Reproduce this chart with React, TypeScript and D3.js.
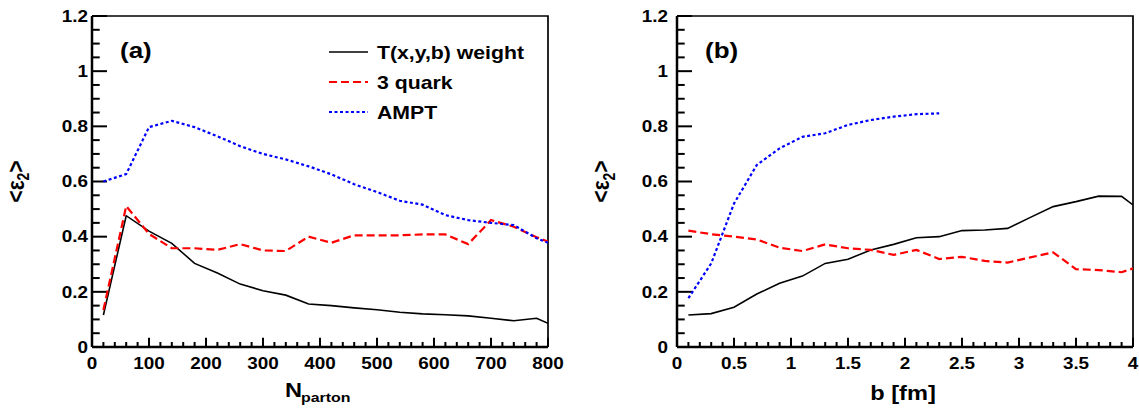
import React from 'react';
import * as d3 from 'd3';

// left panel (a): vs number of partons
const nParton = [20, 60, 100, 140, 180, 220, 260, 300, 340, 380, 420, 460, 500, 540, 580, 620, 660, 700, 740, 780, 800];
const nTWeight = [0.116, 0.476, 0.42, 0.376, 0.303, 0.268, 0.228, 0.204, 0.188, 0.156, 0.15, 0.142, 0.135, 0.126, 0.12, 0.117, 0.113, 0.104, 0.095, 0.104, 0.086];
const nThreeQuark = [0.134, 0.511, 0.41, 0.358, 0.358, 0.352, 0.373, 0.35, 0.348, 0.4, 0.378, 0.405, 0.405, 0.405, 0.408, 0.408, 0.373, 0.46, 0.436, 0.398, 0.382];
const nAmpt = [0.6, 0.627, 0.797, 0.82, 0.797, 0.764, 0.728, 0.7, 0.68, 0.655, 0.626, 0.59, 0.562, 0.53, 0.516, 0.478, 0.46, 0.45, 0.442, 0.394, 0.378];

// right panel (b): vs impact parameter
const bValues = [0.1, 0.3, 0.5, 0.7, 0.9, 1.1, 1.3, 1.5, 1.7, 1.9, 2.1, 2.3, 2.5, 2.7, 2.9, 3.1, 3.3, 3.5, 3.7, 3.9, 4.0];
const bTWeight = [0.116, 0.121, 0.144, 0.192, 0.231, 0.257, 0.303, 0.318, 0.352, 0.372, 0.396, 0.4, 0.422, 0.424, 0.43, 0.47, 0.509, 0.527, 0.547, 0.546, 0.515];
const bThreeQuark = [0.422, 0.409, 0.4, 0.39, 0.36, 0.348, 0.372, 0.358, 0.352, 0.334, 0.352, 0.319, 0.327, 0.312, 0.306, 0.325, 0.343, 0.282, 0.279, 0.271, 0.285];
const bAmptX = [0.1, 0.3, 0.5, 0.7, 0.9, 1.1, 1.3, 1.5, 1.7, 1.9, 2.1, 2.3];
const bAmpt = [0.177, 0.303, 0.52, 0.66, 0.72, 0.762, 0.775, 0.805, 0.823, 0.835, 0.844, 0.847];

const yTicks = [0, 0.2, 0.4, 0.6, 0.8, 1, 1.2];
const nTicks = [0, 100, 200, 300, 400, 500, 600, 700, 800];
const bTicks = [0, 0.5, 1, 1.5, 2, 2.5, 3, 3.5, 4];
const legendNames = ['T(x,y,b) weight', '3 quark', 'AMPT'];

const FONT = '"Liberation Sans", Arial, Helvetica, sans-serif';
const SX = 1.18; // the picture is stretched a bit horizontally
const TOP = 16, BOTTOM = 347;

const styles = [
  { stroke: '#000', width: 1.6, dash: null },
  { stroke: '#ff0000', width: 2.2, dash: '8,4' },
  { stroke: '#0000ff', width: 2.2, dash: '3,2.5' },
];

const T = ({ x, y, size, anchor = 'start', children }: any) => (
  <text transform={`translate(${x},${y}) scale(${SX},1)`} fontSize={size} fontWeight="bold"
    fontFamily={FONT} textAnchor={anchor} fill="#000">{children}</text>
);

function Panel({ id, left, right, xDomain, xTicks, minorStep, series, tag, labelGap, titleX, xTitle, legend }: any) {
  const x = d3.scaleLinear().domain(xDomain).range([left, right]);
  const y = d3.scaleLinear().domain([0, 1.2]).range([BOTTOM, TOP]);
  const minorY = d3.range(0, 1.2001, 0.05);
  const minorX = d3.range(xDomain[0], xDomain[1] + minorStep / 2, minorStep);
  const line = d3.line<[number, number]>().x(d => x(d[0])).y(d => y(d[1]));
  const fmt = (v: number) => String(+v.toFixed(2));

  return (
    <g>
      <clipPath id={id}><rect x={left} y={TOP} width={right - left} height={BOTTOM - TOP} /></clipPath>
      {/* frame */}
      <path d={`M${left},${TOP}H${right}V${BOTTOM}`} fill="none" stroke="#000" strokeWidth={1.7} />
      <line x1={left} x2={left} y1={TOP} y2={BOTTOM} stroke="#000" strokeWidth={2.5} />
      <line x1={left} x2={right} y1={BOTTOM} y2={BOTTOM} stroke="#000" strokeWidth={2.5} />
      {/* y ticks */}
      {minorY.map((v, i) => (
        <line key={'ym' + i} x1={left} x2={left + (i % 4 === 0 ? 15 : 7.7)} y1={y(v)} y2={y(v)} stroke="#000" strokeWidth={2} />
      ))}
      {yTicks.map(v => (
        <T key={'yl' + v} x={left - labelGap} y={y(v) + 5.8} size={16} anchor="end">{fmt(v)}</T>
      ))}
      {/* x ticks */}
      {minorX.map((v, i) => (
        <line key={'xm' + i} x1={x(v)} x2={x(v)} y1={BOTTOM} y2={BOTTOM - (i % 5 === 0 ? 9.3 : 5)} stroke="#000" strokeWidth={2} />
      ))}
      {xTicks.map((v: number) => (
        <T key={'xl' + v} x={x(v)} y={368.5} size={16} anchor="middle">{fmt(v)}</T>
      ))}
      {/* data */}
      <g clipPath={`url(#${id})`}>
        {series.map((s: any, i: number) => (
          <path key={'s' + i} d={line(s.xs.map((v: number, j: number) => [v, s.ys[j]])) || ''} fill="none"
            stroke={styles[i].stroke} strokeWidth={styles[i].width} strokeDasharray={styles[i].dash || undefined} />
        ))}
      </g>
      <T x={tag.x} y={58} size={22}>{tag.text}</T>
      {xTitle}
      {/* y title */}
      <text transform={`translate(${titleX},181.5) rotate(-90) scale(1,${SX})`} fontSize={21} fontWeight="bold"
        fontFamily={FONT} textAnchor="middle">
        {'<ε'}<tspan dy={5} fontSize={14}>2</tspan><tspan dy={-5}>{'>'}</tspan>
      </text>
      {legend && legendNames.map((name, i) => (
        <g key={name}>
          <line x1={329} x2={368} y1={52 + i * 30} y2={52 + i * 30} stroke={styles[i].stroke}
            strokeWidth={styles[i].width} strokeDasharray={styles[i].dash || undefined} />
          <T x={377} y={59 + i * 30} size={18}>{name}</T>
        </g>
      ))}
    </g>
  );
}

export default function App() {
  return (
    <svg width={1139} height={411} style={{ position: 'absolute', left: 0, top: 0, background: '#fff' }}>
      <rect width={1139} height={411} fill="#fff" />
      <Panel id="clipA" left={92} right={548} xDomain={[0, 800]} xTicks={nTicks} minorStep={20}
        labelGap={4} titleX={23.5} legend tag={{ x: 120, text: '(a)' }}
        series={[
          { xs: nParton, ys: nTWeight },
          { xs: nParton, ys: nThreeQuark },
          { xs: nParton, ys: nAmpt },
        ]}
        xTitle={
          <g>
            <T x={285} y={396.7} size={20}>N</T>
            <T x={301} y={401.7} size={13.5}>parton</T>
          </g>
        } />
      <Panel id="clipB" left={677} right={1133} xDomain={[0, 4]} xTicks={bTicks} minorStep={0.1}
        labelGap={9} titleX={609} tag={{ x: 705, text: '(b)' }}
        series={[
          { xs: bValues, ys: bTWeight },
          { xs: bValues, ys: bThreeQuark },
          { xs: bAmptX, ys: bAmpt },
        ]}
        xTitle={<T x={903} y={400} size={20} anchor="middle">b [fm]</T>} />
    </svg>
  );
}
